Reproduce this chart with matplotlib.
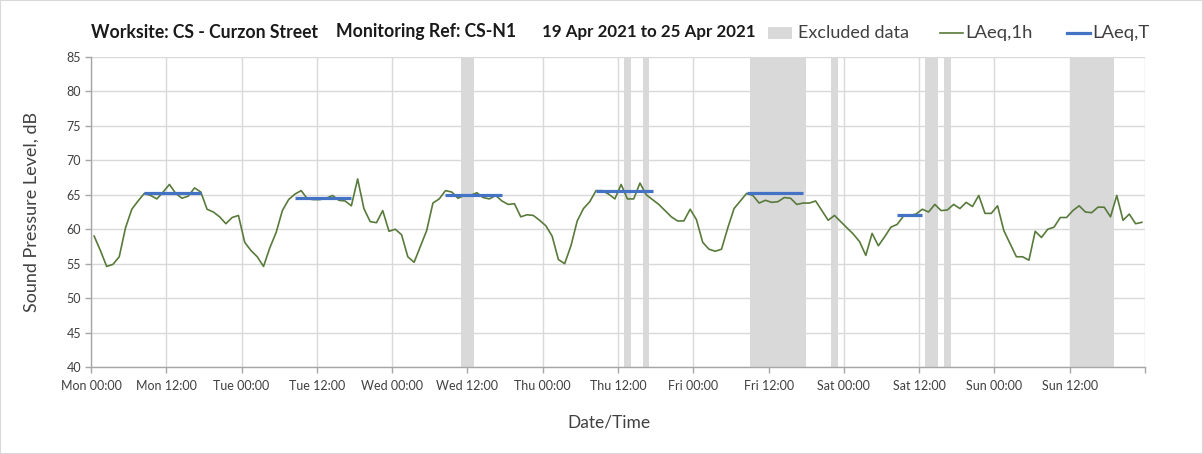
import matplotlib
matplotlib.use("Agg")
import matplotlib.pyplot as plt
import matplotlib.patches as mpatches
import matplotlib.lines as mlines

# ---------------- data ----------------
laeq_1h = [
    59.0, 56.9, 54.6, 54.9, 56.0, 60.2, 62.9, 64.1, 65.2, 64.9, 64.4, 65.4,
    66.5, 65.2, 64.5, 64.8, 66.0, 65.4, 62.9, 62.5, 61.8, 60.8, 61.7, 62.0,
    58.1, 56.9, 56.0, 54.6, 57.3, 59.5, 62.7, 64.3, 65.1, 65.6, 64.4, 64.3,
    64.3, 64.5, 64.9, 64.2, 64.1, 63.4, 67.3, 63.0, 61.1, 60.95, 62.7, 59.7,
    60.0, 59.2, 56.0, 55.2, 57.5, 59.8, 63.8, 64.4, 65.6, 65.4, 64.5, 64.9,
    64.9, 65.3, 64.6, 64.4, 64.9, 64.1, 63.6, 63.7, 61.8, 62.1, 62.0, 61.3,
    60.5, 59.0, 55.6, 55.0, 57.6, 61.2, 63.0, 64.0, 65.6, 65.6, 65.1, 64.4,
    66.5, 64.4, 64.4, 66.7, 65.0, 64.3, 63.6, 62.7, 61.8, 61.2, 61.2, 62.9,
    61.4, 58.1, 57.1, 56.8, 57.1, 60.2, 63.0, 64.1, 65.2, 64.9, 63.8, 64.2,
    63.9, 64.0, 64.6, 64.5, 63.6, 63.8, 63.8, 64.1, 62.7, 61.3, 62.0, 61.1,
    60.2, 59.3, 58.2, 56.2, 59.4, 57.6, 58.9, 60.3, 60.7, 61.9, 62.0, 62.2,
    62.9, 62.5, 63.6, 62.7, 62.8, 63.6, 63.0, 63.9, 63.3, 64.9, 62.3, 62.3,
    63.4, 59.8, 57.9, 56.0, 56.0, 55.5, 59.7, 58.8, 60.0, 60.3, 61.7, 61.7,
    62.7, 63.4, 62.5, 62.4, 63.2, 63.2, 61.8, 64.9, 61.3, 62.2, 60.8, 61.0,
]
hours_1h = [h + 0.5 for h in range(len(laeq_1h))]  # hourly values, mid-hour

# LAeq,T periods: (start hour, end hour, level)
laeq_t_start = [8.5, 32.5, 56.5, 80.5, 104.5, 128.5]
laeq_t_end = [17.5, 41.5, 65.5, 89.5, 113.5, 132.5]
laeq_t_value = [65.2, 64.6, 64.9, 65.5, 65.3, 62.1]

# Excluded data periods (hours from Mon 00:00)
excl_start = [59, 85, 88, 105, 118, 133, 136, 156]
excl_end = [61, 86, 89, 114, 119, 135, 137, 163]

tick_labels = ["Mon 00:00", "Mon 12:00", "Tue 00:00", "Tue 12:00", "Wed 00:00",
               "Wed 12:00", "Thu 00:00", "Thu 12:00", "Fri 00:00", "Fri 12:00",
               "Sat 00:00", "Sat 12:00", "Sun 00:00", "Sun 12:00"]
tick_hours = [12 * i for i in range(len(tick_labels))]

title_parts = ["Worksite: CS - Curzon Street", "Monitoring Ref: CS-N1",
               "19 Apr 2021 to 25 Apr 2021"]
legend_labels = ["Excluded data", "LAeq,1h", "LAeq,T"]

# ---------------- style ----------------
plt.rcParams['font.family'] = ['Lato', 'DejaVu Sans']
GREEN = '#587a3b'
BLUE = '#4472c4'
EXCL = '#d9d9d9'
GRID = '#d9d9d9'
SPINE = '#a6a6a6'
TXT = '#404040'

W, H = 1203, 454
fig = plt.figure(figsize=(W / 100, H / 100), dpi=100)
AX_L, AX_R, AX_T, AX_B = 91, 1145, 57, 367
ax = fig.add_axes([AX_L / W, 1 - AX_B / H, (AX_R - AX_L) / W, (AX_B - AX_T) / H])

def fx(px):
    return px / W

def fy(py):
    return 1 - py / H

for s, e in zip(excl_start, excl_end):
    ax.axvspan(s, e, color=EXCL, lw=0, zorder=1)

ax.plot(hours_1h, laeq_1h, color=GREEN, lw=1.2, zorder=3)
for s, e, v in zip(laeq_t_start, laeq_t_end, laeq_t_value):
    ax.plot([s, e], [v, v], color=BLUE, lw=2.3, zorder=4, solid_capstyle='butt')

ax.set_xlim(0, 168)
ax.set_ylim(40, 85)
ax.set_yticks(range(40, 86, 5))
ax.set_xticks(tick_hours + [168])
ax.set_xticklabels(tick_labels + [""])
ax.grid(True, color=GRID, lw=1.0, zorder=0)
ax.set_axisbelow(True)

for sp in ['top', 'right']:
    ax.spines[sp].set_visible(False)
for sp in ['left', 'bottom']:
    ax.spines[sp].set_color(SPINE)
    ax.spines[sp].set_linewidth(1.0)
ax.tick_params(axis='both', colors=SPINE, labelcolor=TXT, labelsize=9, length=4, width=1)
ax.tick_params(axis='x', pad=5)
ax.tick_params(axis='y', pad=3)

ax.set_ylabel("Sound Pressure Level, dB", fontsize=13, color=TXT)
ax.yaxis.set_label_coords((32 - AX_L) / (AX_R - AX_L), 0.5)
ax.set_xlabel("Date/Time", fontsize=12.5, color=TXT)
ax.xaxis.set_label_coords((609 - AX_L) / (AX_R - AX_L), -(422 - AX_B) / (AX_B - AX_T))
ax.xaxis.label.set_va('center')
ax.yaxis.label.set_va('center')

# title in three parts
for x0, txt, fs in zip([91, 336, 542], title_parts, [12.7, 12.7, 12.2]):
    fig.text(fx(x0), fy(32), txt, fontsize=fs, fontweight='bold',
             color='#1a1a1a', va='center', ha='left')

# legend (drawn in figure coordinates)
ly = 33
fig.patches.append(mpatches.Rectangle((fx(768), fy(39)), fx(792) - fx(768), fy(27) - fy(39),
                                      transform=fig.transFigure, color=EXCL, lw=0))
fig.text(fx(798), fy(ly), legend_labels[0], fontsize=13.0, color=TXT, va='center', ha='left')
fig.lines.append(mlines.Line2D([fx(940), fx(963)], [fy(ly), fy(ly)], transform=fig.transFigure,
                               color=GREEN, lw=1.2))
fig.text(fx(965), fy(ly), legend_labels[1], fontsize=13.3, color=TXT, va='center', ha='left')
fig.lines.append(mlines.Line2D([fx(1067), fx(1090)], [fy(ly), fy(ly)], transform=fig.transFigure,
                               color=BLUE, lw=2.3))
fig.text(fx(1092), fy(ly), legend_labels[2], fontsize=13.3, color=TXT, va='center', ha='left')

# outer frame
fig.patches.append(mpatches.Rectangle((0, 0), 1, 1, transform=fig.transFigure,
                                      fill=False, edgecolor='#d9d9d9', lw=1.5))

fig.savefig("out.png", dpi=100)
